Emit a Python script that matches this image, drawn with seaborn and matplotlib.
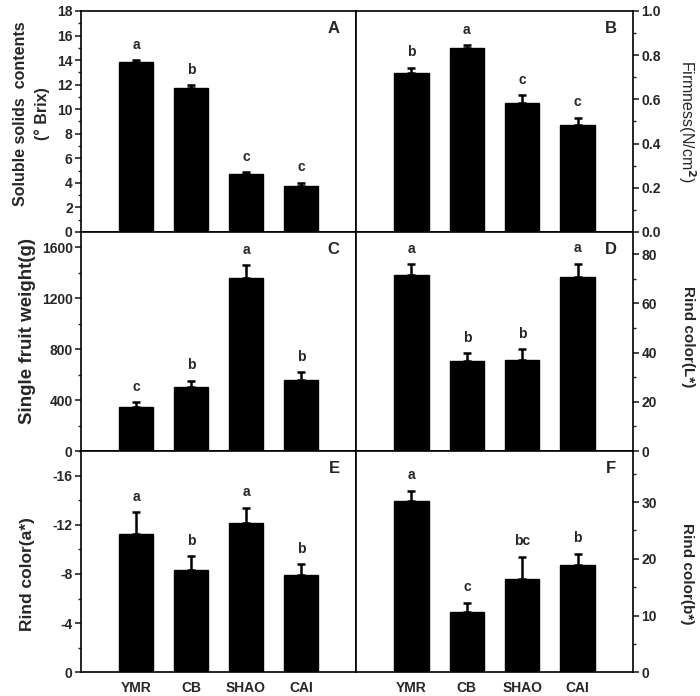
import numpy as np
import seaborn as sns
import matplotlib.pyplot as plt
from matplotlib.ticker import MultipleLocator

sns.set_style('ticks')
plt.rcParams['font.family'] = ['Liberation Sans', 'DejaVu Sans']
plt.rcParams['font.weight'] = 'bold'

cultivars = ['YMR', 'CB', 'SHAO', 'CAI']

# A: soluble solids
ssc = [13.85, 11.76, 4.75, 3.75]
ssc_err = [0.13, 0.19, 0.14, 0.27]
ssc_sig = ['a', 'b', 'c', 'c']

# B: firmness
firm = [0.721, 0.834, 0.582, 0.482]
firm_err = [0.023, 0.012, 0.037, 0.035]
firm_sig = ['b', 'a', 'c', 'c']

# C: single fruit weight
weight = [345, 500, 1358, 555]
weight_err = [37, 53, 100, 66]
weight_sig = ['c', 'b', 'a', 'b']

# D: L*
lstar = [71.6, 36.6, 36.9, 70.9]
lstar_err = [4.3, 3.1, 4.6, 5.2]
lstar_sig = ['a', 'b', 'b', 'a']

# E: a*
astar = [-11.27, -8.33, -12.14, -7.89]
astar_err = [1.73, 1.14, 1.26, 0.90]
astar_sig = ['a', 'b', 'a', 'b']

# F: b*
bstar = [30.2, 10.7, 16.4, 19.0]
bstar_err = [1.8, 1.6, 4.0, 1.9]
bstar_sig = ['a', 'c', 'bc', 'b']

fig = plt.figure(figsize=(7, 6.96), dpi=100)

# panels share their inner edges
cols = [(0.1157, 0.393), (0.5087, 0.3956)]
rows = [(0.6667, 0.3175), (0.352, 0.3147), (0.034, 0.318)]

# row, col, letter, values, errors, letters, ylim, major, minor, label, fmt,
# label size, label weight, label coords
panels = [
    (0, 0, 'A', ssc, ssc_err, ssc_sig, (0, 18), 2, 1,
     'Soluble solids  contents\n(° Brix)', '{:.0f}', 11.5, 'bold', (-0.18, 0.534)),
    (0, 1, 'B', firm, firm_err, firm_sig, (0, 1.0), 0.2, 0.1,
     'Firmness(N/cm$^2$)', '{:.1f}', 11.5, 'normal', (1.196, 0.5)),
    (1, 0, 'C', weight, weight_err, weight_sig, (0, 1718), 400, 200,
     'Single fruit weight(g)', '{:.0f}', 13.5, 'bold', (-0.193, 0.546)),
    (1, 1, 'D', lstar, lstar_err, lstar_sig, (0, 89), 20, 10,
     'Rind color(L*)', '{:.0f}', 11, 'bold', (1.2, 0.52)),
    (2, 0, 'E', astar, astar_err, astar_sig, (0, -18), 4, 2,
     'Rind color(a*)', '{:.0f}', 12.5, 'bold', (-0.193, 0.443)),
    (2, 1, 'F', bstar, bstar_err, bstar_sig, (0, 39), 10, 5,
     'Rind color(b*)', '{:.0f}', 11, 'bold', (1.196, 0.447)),
]

for (r, c, letter, vals, errs, sigs, ylim, major, minor, ylabel, fmt,
     lsize, lweight, lcoords) in panels:
    ax = fig.add_axes([cols[c][0], rows[r][0], cols[c][1], rows[r][1]])
    sns.barplot(x=cultivars, y=vals, color='black', width=0.62, ax=ax,
                saturation=1, edgecolor='black')
    x = np.arange(len(cultivars))
    vals = np.array(vals)
    errs = np.array(errs)
    if vals[0] < 0:
        yerr = [errs, np.zeros_like(errs)]
        tops = vals - errs
    else:
        yerr = [np.zeros_like(errs), errs]
        tops = vals + errs
    ax.errorbar(x, vals, yerr=yerr, fmt='none', ecolor='black',
                elinewidth=1.8, capsize=3, capthick=1.8)
    for xi, t, s in zip(x, tops, sigs):
        ax.annotate(s, (xi, t), xytext=(0, 6), textcoords='offset points',
                    ha='center', va='bottom', fontsize=10, fontweight='bold')
    ax.set_xlim(-1, 4)
    ax.set_ylim(*ylim)
    ax.yaxis.set_major_locator(MultipleLocator(major))
    ax.yaxis.set_minor_locator(MultipleLocator(minor))
    ax.yaxis.set_major_formatter(plt.FuncFormatter(
        lambda v, p, f=fmt: f.format(v) if abs(v) > 1e-9 else f.format(0)))
    for sp in ax.spines.values():
        sp.set_visible(True)
        sp.set_linewidth(1.2)
        sp.set_color('black')
    ax.tick_params(axis='y', which='major', length=4, width=1.2, labelsize=10,
                   direction='out', pad=2)
    ax.tick_params(axis='y', which='minor', length=2, width=1, direction='out')
    ax.tick_params(axis='x', length=0, labelsize=10, pad=6)
    if r < 2:
        ax.set_xticklabels([])
    for lab in ax.get_xticklabels() + ax.get_yticklabels():
        lab.set_fontweight('bold')
    if c == 1:
        ax.yaxis.tick_right()
        ax.yaxis.set_label_position('right')
        ax.tick_params(axis='y', which='both', left=False, right=True)
        ax.set_ylabel(ylabel, rotation=270, fontsize=lsize, fontweight=lweight,
                      va='center')
    else:
        ax.set_ylabel(ylabel, fontsize=lsize, fontweight=lweight,
                      linespacing=1.5, va='center')
    ax.yaxis.set_label_coords(*lcoords)
    ax.text(0.94, 0.92, letter, transform=ax.transAxes, ha='right', va='center',
            fontsize=12, fontweight='bold')

fig.savefig('out.png', dpi=100)
